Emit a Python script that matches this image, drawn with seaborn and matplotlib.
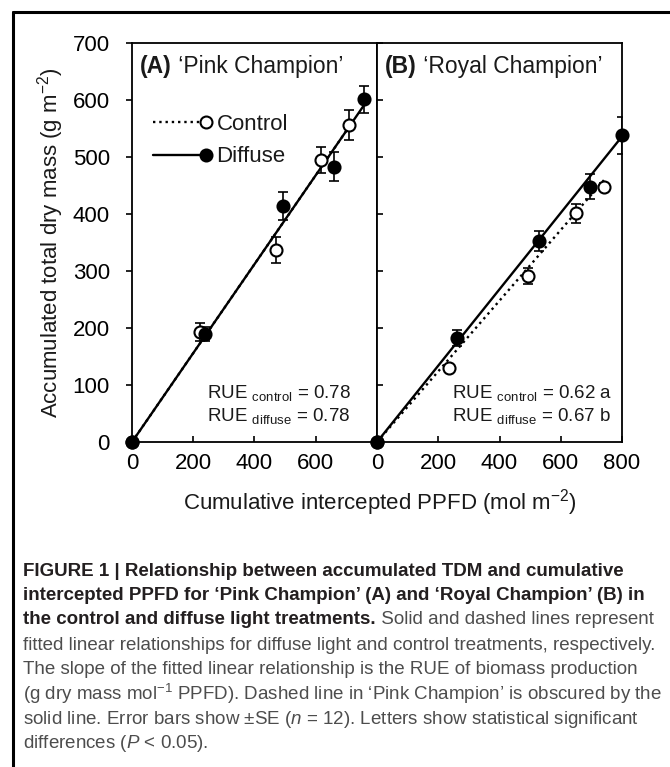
import matplotlib
matplotlib.use("Agg")
import matplotlib.pyplot as plt
from matplotlib.lines import Line2D
from matplotlib.legend_handler import HandlerLine2D
import seaborn as sns

# (A) 'Pink Champion'
pink_ctrl_x = [0, 222, 469, 618, 710]
pink_ctrl_y = [0, 193, 337, 495, 556]
pink_ctrl_se = [0, 15, 23, 23, 26]
pink_diff_x = [0, 238, 494, 658, 756]
pink_diff_y = [0, 189, 414, 483, 601]
pink_diff_se = [0, 12, 25, 26, 23]

# (B) 'Royal Champion'
royal_ctrl_x = [0, 236, 492, 650, 742]
royal_ctrl_y = [0, 129, 291, 401, 448]
royal_ctrl_se = [0, 6, 14, 16, 7]
royal_diff_x = [0, 260, 530, 694, 800]
royal_diff_y = [0, 182, 353, 448, 538]
royal_diff_se = [0, 14, 18, 22, 32]

# fitted slopes (RUE) and significance letters
pink_rue = [0.78, 0.78]
royal_rue = [0.62, 0.67]
royal_letters = [" a", " b"]

y_ticks = [0, 100, 200, 300, 400, 500, 600, 700]
x_ticks = [0, 200, 400, 600, 800]

caption_lines = [
    "fitted linear relationships for diffuse light and control treatments, respectively.",
    "The slope of the fitted linear relationship is the RUE of biomass production",
    "(g dry mass mol$^{-1}$ PPFD). Dashed line in \u2018Pink Champion\u2019 is obscured by the",
    "solid line. Error bars show \u00b1SE ($n$ = 12). Letters show statistical significant",
    "differences ($P$ < 0.05).",
]

sns.set_theme(style="ticks", rc={"axes.edgecolor": "black", "text.color": "#1a1a1a",
                                 "xtick.color": "black", "ytick.color": "black",
                                 "axes.labelcolor": "#1a1a1a"})
plt.rcParams["font.family"] = ["Liberation Sans", "DejaVu Sans"]
plt.rcParams["mathtext.fontset"] = "custom"
plt.rcParams["mathtext.rm"] = "Liberation Sans"
plt.rcParams["mathtext.it"] = "Liberation Sans:italic"
plt.rcParams["mathtext.bf"] = "Liberation Sans:bold"


class EndMarkerHandler(HandlerLine2D):
    # put the legend marker at the right end of the line, like the original
    def create_artists(self, legend, orig_handle, xdescent, ydescent, width, height, fontsize, trans):
        artists = super().create_artists(legend, orig_handle, xdescent, ydescent,
                                         width, height, fontsize, trans)
        for a in artists:
            a.set_markevery([len(a.get_xdata()) - 1])
        return artists


def draw_series(ax, x, y, se, slope, face, ls):
    ax.errorbar(x, y, yerr=se, fmt="none", ecolor="black", elinewidth=1.2,
                capsize=3.5, capthick=1.2, zorder=2)
    xs = [0, max(x)]
    sns.lineplot(x=xs, y=[0, slope * max(x)], ax=ax, color="black", lw=1.7,
                 linestyle=ls, zorder=3)
    sns.scatterplot(x=x, y=y, ax=ax, s=75, color=face, edgecolor="black",
                    linewidth=1.5, zorder=4, clip_on=False)


def draw_panel(ax, ctrl, diff, rue, letters, tag, name):
    draw_series(ax, *ctrl, rue[0], "white", ":")
    draw_series(ax, *diff, rue[1], "black", "-")
    ax.set_xlim(0, 800)
    ax.set_ylim(0, 700)
    ax.set_xticks(x_ticks)
    ax.set_yticks(y_ticks)
    for s in ax.spines.values():
        s.set_linewidth(1.3)
        s.set_visible(True)
    ax.tick_params(axis="x", direction="in", length=4, width=1.2, labelsize=16, pad=8)
    t = ax.text(0.033, 0.94, tag, transform=ax.transAxes, fontsize=16.5,
                fontweight="bold", va="center", ha="left")
    ax.annotate(name, xy=(1, 0), xycoords=t, va="bottom", ha="left", fontsize=16.5)
    ax.text(0.306, 0.123, r"RUE$\ _{\mathrm{control}}$ = %.2f%s" % (rue[0], letters[0]),
            transform=ax.transAxes, fontsize=13.5, va="center", ha="left")
    ax.text(0.306, 0.066, r"RUE$\ _{\mathrm{diffuse}}$ = %.2f%s" % (rue[1], letters[1]),
            transform=ax.transAxes, fontsize=13.5, va="center", ha="left")


fig = plt.figure(figsize=(6.7, 7.67), dpi=100)
axA = fig.add_axes([0.197, 0.4237, 0.3657, 0.5203])
axB = fig.add_axes([0.5627, 0.4237, 0.3657, 0.5203])

draw_panel(axA, (pink_ctrl_x, pink_ctrl_y, pink_ctrl_se),
           (pink_diff_x, pink_diff_y, pink_diff_se), pink_rue, ["", ""],
           "(A)", " \u2018Pink Champion\u2019")
draw_panel(axB, (royal_ctrl_x, royal_ctrl_y, royal_ctrl_se),
           (royal_diff_x, royal_diff_y, royal_diff_se), royal_rue, royal_letters,
           "(B)", " \u2018Royal Champion\u2019")

axA.set_xticklabels([str(v) for v in x_ticks[:-1]] + [""])
axA.tick_params(axis="y", direction="out", length=4, width=1.2, labelsize=16, pad=12)
axB.tick_params(axis="y", direction="in", length=4, width=1.2, labelleft=False)

axA.set_ylabel("Accumulated total dry mass (g m$^{-2}$)", fontsize=16)
axA.yaxis.set_label_coords(-0.27, 0.5)
fig.text(380 / 670, 1 - 503 / 767, "Cumulative intercepted PPFD (mol m$^{-2}$)",
         fontsize=16, ha="center", va="center", color="#1a1a1a")

# legend in panel A
h_ctrl = Line2D([], [], color="black", ls=":", lw=1.7, marker="o", markersize=8.6,
                markerfacecolor="white", markeredgecolor="black", markeredgewidth=1.5)
h_diff = Line2D([], [], color="black", ls="-", lw=1.7, marker="o", markersize=8.6,
                markerfacecolor="black", markeredgecolor="black", markeredgewidth=1.5)
axA.legend(handles=[h_ctrl, h_diff], labels=["Control", "Diffuse"], loc="center left",
           bbox_to_anchor=(0.086, 0.755), frameon=False, fontsize=16, handlelength=2.4,
           handletextpad=0.45, labelspacing=0.5, borderpad=0, borderaxespad=0,
           numpoints=1, handler_map={Line2D: EndMarkerHandler()})

# caption
cap_x = 23 / 670
cap_y = [571, 596, 620, 645, 670, 694, 719, 743]
cap_size = 13.5
bold_col = "#231f20"
reg_col = "#4d4d4d"
fig.text(cap_x, 1 - cap_y[0] / 767,
         "FIGURE 1 | Relationship between accumulated TDM and cumulative",
         fontsize=cap_size, fontweight="bold", color=bold_col, va="center")
fig.text(cap_x, 1 - cap_y[1] / 767,
         "intercepted PPFD for \u2018Pink Champion\u2019 (A) and \u2018Royal Champion\u2019 (B) in",
         fontsize=cap_size, fontweight="bold", color=bold_col, va="center")
tb = fig.text(cap_x, 1 - cap_y[2] / 767, "the control and diffuse light treatments.",
              fontsize=cap_size, fontweight="bold", color=bold_col, va="center")
plt.annotate(" Solid and dashed lines represent", xy=(1, 0), xycoords=tb,
             va="bottom", ha="left", fontsize=cap_size, color=reg_col,
             annotation_clip=False)
for line, yy in zip(caption_lines, cap_y[3:]):
    fig.text(cap_x, 1 - yy / 767, line, fontsize=cap_size, color=reg_col, va="center")

# frame of the figure box (top and left edges)
fig.add_artist(Line2D([13 / 670, 1], [1 - 12 / 767] * 2, transform=fig.transFigure,
                      color="black", lw=2.2))
fig.add_artist(Line2D([13 / 670] * 2, [0, 1 - 12 / 767], transform=fig.transFigure,
                      color="black", lw=2.2))

fig.savefig("out.png", dpi=100)
